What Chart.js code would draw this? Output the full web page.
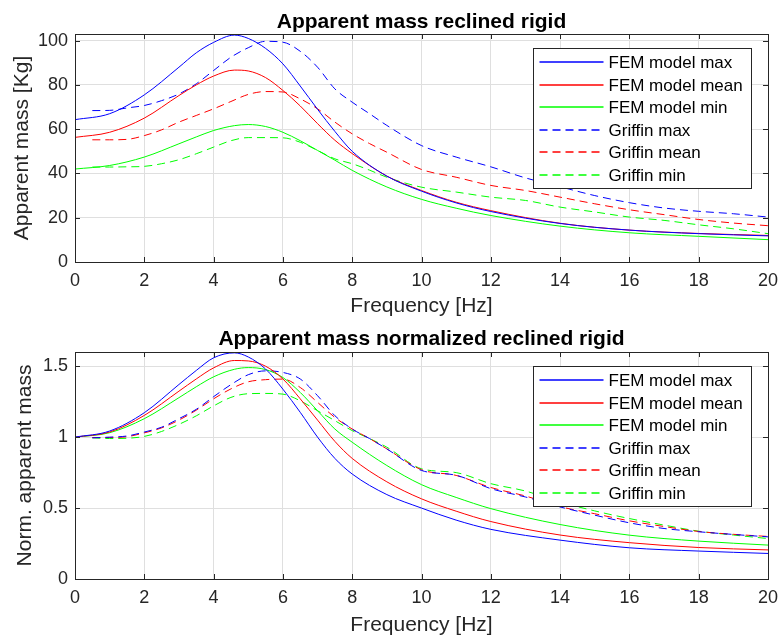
<!DOCTYPE html>
<html>
<head>
<meta charset="utf-8">
<script src="https://cdn.jsdelivr.net/npm/chart.js@4.4.1/dist/chart.umd.min.js"></script>
<style>
  body { margin: 0; background: #fff; }
  .box { position: absolute; left: 0; }
</style>
</head>
<body>
<div class="box" style="top:0"><canvas id="massChart" width="779" height="320"></canvas></div>
<div class="box" style="top:320px"><canvas id="normChart" width="779" height="319"></canvas></div>
<script>
// frequency grids (Hz)
const femFreq = [0, 1, 2, 3, 3.5, 4, 4.6, 5, 5.5, 6, 6.5, 7, 7.5, 8, 9, 10, 11, 12, 14, 16, 18, 20]
const griffinFreq = [0.5, 1, 1.5, 2, 2.5, 3, 3.5, 4, 4.5, 5, 5.5, 6, 6.5, 7, 7.5, 8, 8.5, 9, 10, 11, 12, 13, 14, 15, 16, 17, 18, 19, 20]

// apparent mass [Kg]
const femMax = [64.3, 67, 75.5, 88, 94.5, 99.2, 102.5, 101, 96.5, 89.5, 79.5, 69, 59, 50, 38.8, 32, 26.7, 22.8, 17.4, 14.4, 12.8, 11.8]
const femMean = [56.3, 58.6, 65, 75.2, 80, 84, 86.7, 86.3, 83.3, 77.5, 70.5, 62.5, 55, 49, 38.8, 32.3, 27, 23.2, 17.5, 14.4, 12.9, 12]
const femMin = [42, 43.6, 47.4, 53.4, 56.5, 59.4, 61.6, 62.1, 61.2, 58.6, 54.8, 50.4, 46, 41.4, 33.9, 28.3, 24.3, 21, 16.2, 13.2, 11.6, 10.1]
const griffinMax = [68.4, 68.5, 69.6, 70.7, 72.9, 75.9, 80.5, 86.5, 92.5, 96.8, 99.7, 99.3, 95.2, 88, 78.2, 72.2, 67, 61.7, 52.6, 47.4, 43, 38, 34, 30, 26.8, 24.4, 22.9, 21.8, 20.3]
const griffinMean = [55.2, 55.2, 55.4, 57.1, 59.7, 63.2, 66.2, 69.2, 72.5, 75.7, 77, 76.8, 73.7, 69.2, 63.2, 57.9, 53.5, 49.6, 41.8, 38.3, 34.6, 32.3, 29.3, 26.3, 23.6, 21.4, 19.2, 17.6, 16.4]
const griffinMin = [42.9, 42.9, 43, 43.2, 44.4, 46.2, 48.9, 51.9, 54.8, 56.2, 56.2, 56.1, 54.1, 50.4, 46.6, 44.4, 41.5, 38.3, 33.8, 31.6, 29.3, 27.8, 24.8, 22.6, 20.3, 18.8, 16.8, 15, 12.8]

// normalized apparent mass
const normFemMax = [1, 1.043, 1.172, 1.371, 1.47, 1.559, 1.594, 1.565, 1.48, 1.338, 1.175, 1.0, 0.85, 0.74, 0.595, 0.5, 0.415, 0.35, 0.274, 0.22, 0.197, 0.18]
const normFemMean = [1, 1.036, 1.153, 1.324, 1.41, 1.488, 1.54, 1.537, 1.5, 1.41, 1.27, 1.12, 0.97, 0.85, 0.685, 0.565, 0.478, 0.405, 0.31, 0.256, 0.222, 0.205]
const normFemMin = [1, 1.031, 1.13, 1.278, 1.355, 1.425, 1.478, 1.49, 1.476, 1.42, 1.315, 1.186, 1.057, 0.964, 0.8, 0.665, 0.575, 0.496, 0.384, 0.309, 0.267, 0.239]
const normGriffinMax = [0.995, 1, 1.008, 1.036, 1.07, 1.13, 1.196, 1.285, 1.37, 1.44, 1.467, 1.456, 1.41, 1.292, 1.151, 1.057, 0.99, 0.917, 0.765, 0.731, 0.637, 0.578, 0.508, 0.45, 0.396, 0.356, 0.333, 0.314, 0.297]
const normGriffinMean = [0.997, 0.997, 1.003, 1.03, 1.065, 1.12, 1.19, 1.27, 1.34, 1.39, 1.405, 1.409, 1.35, 1.245, 1.139, 1.057, 0.99, 0.917, 0.77, 0.73, 0.645, 0.585, 0.51, 0.46, 0.41, 0.37, 0.335, 0.315, 0.3]
const normGriffinMin = [0.995, 0.99, 0.992, 1.005, 1.04, 1.09, 1.15, 1.22, 1.28, 1.306, 1.308, 1.303, 1.256, 1.186, 1.116, 1.046, 0.99, 0.929, 0.777, 0.75, 0.672, 0.62, 0.543, 0.48, 0.426, 0.38, 0.337, 0.31, 0.285]

const labels = ['FEM model max', 'FEM model mean', 'FEM model min', 'Griffin max', 'Griffin mean', 'Griffin min']
const colors = ['#0000ff', '#ff0000', '#00ff00']

const FONT = "'Liberation Sans', Arial, sans-serif"
Chart.defaults.font.family = FONT
Chart.defaults.color = '#262626'

const toPoints = (xs, ys) => ys.map((y, i) => ({ x: xs[i], y: y }))

const makeSets = (series) => series.map((ys, i) => ({
    label: labels[i],
    data: toPoints(i < 3 ? femFreq : griffinFreq, ys),
    borderColor: colors[i % 3],
    borderWidth: 1,
    borderDash: i < 3 ? [] : [8, 5],
    pointRadius: 0,
    cubicInterpolationMode: 'monotone',
    fill: false,
}))

// title, box, inward ticks and legend drawn inside the axes like matlab
const frame = {
    id: 'frame',
    afterDatasetsDraw(chart, args, opts) {
        const { ctx, chartArea: a, scales } = chart
        ctx.save()
        ctx.strokeStyle = '#262626'
        ctx.lineWidth = 1
        ctx.setLineDash([])
        ctx.beginPath()
        scales.x.ticks.forEach(t => {
            const px = Math.round(scales.x.getPixelForValue(t.value)) + 0.5
            ctx.moveTo(px, a.bottom); ctx.lineTo(px, a.bottom - 5)
            ctx.moveTo(px, a.top); ctx.lineTo(px, a.top + 5)
        })
        scales.y.ticks.forEach(t => {
            const py = Math.round(scales.y.getPixelForValue(t.value)) + 0.5
            ctx.moveTo(a.left, py); ctx.lineTo(a.left + 5, py)
            ctx.moveTo(a.right, py); ctx.lineTo(a.right - 5, py)
        })
        ctx.stroke()
        ctx.strokeRect(Math.round(a.left) + 0.5, Math.round(a.top) + 0.5,
            Math.round(a.right - a.left), Math.round(a.bottom - a.top))

        // title
        ctx.fillStyle = '#000'
        ctx.font = 'bold 21px ' + FONT
        ctx.textAlign = 'center'
        ctx.textBaseline = 'alphabetic'
        ctx.fillText(opts.title, (a.left + a.right) / 2, opts.titleY)

        // legend
        const w = 218, h = 140
        const lx = Math.round(a.right - 17 - w) + 0.5
        const ly = Math.round(a.top + 14) + 0.5
        ctx.fillStyle = '#fff'
        ctx.fillRect(lx, ly, w, h)
        ctx.strokeStyle = '#262626'
        ctx.lineWidth = 1
        ctx.strokeRect(lx, ly, w, h)
        ctx.font = '17px ' + FONT
        ctx.textAlign = 'left'
        ctx.textBaseline = 'middle'
        chart.data.datasets.forEach((ds, i) => {
            const y = Math.round(ly + 13.5 + i * 22.5)
            ctx.strokeStyle = ds.borderColor
            ctx.lineWidth = 1.5
            ctx.setLineDash(ds.borderDash)
            ctx.beginPath()
            ctx.moveTo(lx + 6, y); ctx.lineTo(lx + 70, y)
            ctx.stroke()
            ctx.setLineDash([])
            ctx.fillStyle = '#000'
            ctx.fillText(ds.label, lx + 75, y + 1)
        })
        ctx.restore()
    }
}

const makeChart = (id, series, opts) => new Chart(document.getElementById(id), {
    type: 'line',
    data: { datasets: makeSets(series) },
    plugins: [frame],
    options: {
        responsive: false,
        animation: false,
        devicePixelRatio: 1,
        layout: { padding: { left: 0, right: 11, top: opts.top, bottom: 0 } },
        plugins: {
            legend: { display: false },
            tooltip: { enabled: false },
            title: { display: false },
            frame: { title: opts.title, titleY: opts.titleY },
        },
        scales: {
            x: {
                type: 'linear',
                min: 0,
                max: 20,
                ticks: { stepSize: 2, padding: 8, font: { size: 18 }, color: '#262626' },
                grid: { color: '#dfdfdf', drawTicks: false },
                border: { display: false },
                title: { display: true, text: 'Frequency [Hz]', font: { size: 21 }, padding: { top: 1, bottom: 1 } },
                afterFit: s => {
                    s.height = opts.xHeight
                    s.paddingLeft = 0
                    s.paddingRight = 0
                },
            },
            y: {
                min: 0,
                max: opts.yMax,
                ticks: {
                    stepSize: opts.yStep, padding: 7, includeBounds: false,
                    font: { size: 18 }, color: '#262626',
                    callback: v => String(v),
                },
                grid: { color: '#dfdfdf', drawTicks: false },
                border: { display: false },
                title: { display: true, text: opts.yTitle, font: { size: 21 }, padding: { top: opts.yTitlePad, bottom: opts.yTitlePad } },
                afterFit: s => {
                    s.width = 75
                    s.paddingTop = 0
                    s.paddingBottom = 0
                },
            },
        },
    },
})

makeChart('massChart', [femMax, femMean, femMin, griffinMax, griffinMean, griffinMin], {
    title: 'Apparent mass reclined rigid',
    top: 34,
    titleY: 27.5,
    xHeight: 58,
    yMax: 103,
    yStep: 20,
    yTitle: 'Apparent mass [Kg]',
    yTitlePad: 10,
})

makeChart('normChart', [normFemMax, normFemMean, normFemMin, normGriffinMax, normGriffinMean, normGriffinMin], {
    title: 'Apparent mass normalized reclined rigid',
    top: 32,
    titleY: 25,
    xHeight: 60,
    yMax: 1.6,
    yStep: 0.5,
    yTitle: 'Norm. apparent mass',
    yTitlePad: 13,
})
</script>
</body>
</html>
